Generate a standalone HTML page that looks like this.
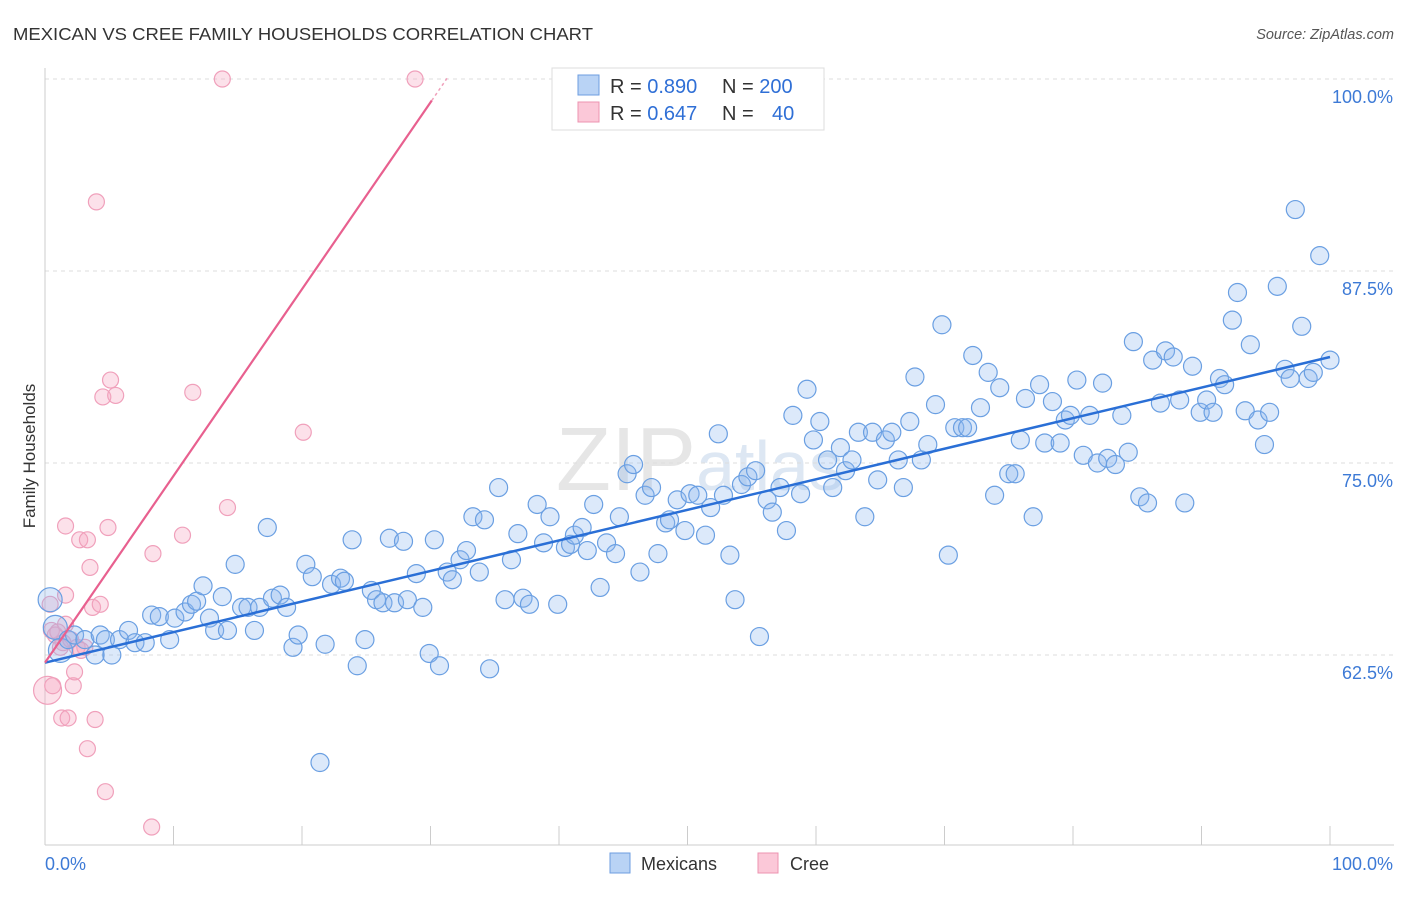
<!DOCTYPE html>
<html><head><meta charset="utf-8">
<style>
body{margin:0;background:#fff;font-family:"Liberation Sans",sans-serif;}
svg text{font-family:"Liberation Sans",sans-serif;}
</style></head>
<body>
<svg id="chart" width="1406" height="892" xmlns="http://www.w3.org/2000/svg">
<text x="13" y="40" font-size="17.5" fill="#333" textLength="580" lengthAdjust="spacingAndGlyphs">MEXICAN VS CREE FAMILY HOUSEHOLDS CORRELATION CHART</text>
<text x="1394" y="39" font-size="14.5" fill="#555" text-anchor="end" font-style="italic">Source: ZipAtlas.com</text>
<text x="700" y="490" font-size="90" fill="#e6e6e6" text-anchor="middle" font-family="Liberation Serif">ZIP<tspan font-size="70" fill="#dde7f3" font-family="Liberation Sans">atlas</tspan></text>
<g id="grid"></g>
<g id="axes"></g>
<g id="cree"></g>
<g id="mex"></g>
<g id="lines"></g>
<text x="35" y="456" font-size="17" fill="#333" text-anchor="middle" transform="rotate(-90 35 456)">Family Households</text>
<g>
<rect x="552" y="68" width="272" height="62" fill="#fff" stroke="#ddd"/>
<rect x="578" y="75" width="21" height="20" fill="#b9d3f5" stroke="#6d9ee0"/>
<rect x="578" y="102" width="21" height="20" fill="#fbc8d8" stroke="#ec93b0"/>
<text x="610" y="93" font-size="20" fill="#333">R = <tspan fill="#2f6fd6">0.890</tspan><tspan x="722">N = </tspan><tspan fill="#2f6fd6">200</tspan></text>
<text x="610" y="120" font-size="20" fill="#333">R = <tspan fill="#2f6fd6">0.647</tspan><tspan x="722">N = </tspan><tspan x="772" fill="#2f6fd6">40</tspan></text>
</g>
<g>
<rect x="610" y="853" width="20" height="20" fill="#b9d3f5" stroke="#6d9ee0"/>
<text x="641" y="870" font-size="18" fill="#333">Mexicans</text>
<rect x="758" y="853" width="20" height="20" fill="#fbc8d8" stroke="#ec93b0"/>
<text x="790" y="870" font-size="18" fill="#333">Cree</text>
</g>
</svg>
<script>
const yTicks=[100,87.5,75,62.5];
const yTickLabels=["100.0%","87.5%","75.0%","62.5%"];
const xEndLabels=["0.0%","100.0%"];
const mexX=[0.4,0.8,1.2,1.8,2.3,3.1,3.9,4.3,4.7,5.2,5.8,6.5,7.0,7.8,8.3,8.9,9.7,10.1,10.9,11.4,11.8,12.3,12.8,13.2,13.8,14.2,14.8,15.3,15.8,16.3,16.7,17.3,17.7,18.3,18.8,19.3,19.7,20.3,20.8,21.4,21.8,22.3,23.0,23.3,23.9,24.3,24.9,25.4,25.8,26.3,26.8,27.2,27.9,28.2,28.9,29.4,29.9,30.3,30.7,31.3,31.7,32.3,32.8,33.3,33.8,34.2,34.6,35.3,35.8,36.3,36.8,37.2,37.7,38.3,38.8,39.3,39.9,40.5,40.9,41.2,41.8,42.2,42.7,43.2,43.7,44.4,44.7,45.3,45.8,46.3,46.7,47.2,47.7,48.3,48.6,49.2,49.8,50.2,50.8,51.4,51.8,52.4,52.8,53.3,53.7,54.2,54.7,55.3,55.6,56.2,56.6,57.2,57.7,58.2,58.8,59.3,59.8,60.3,60.9,61.3,61.9,62.3,62.8,63.3,63.8,64.4,64.8,65.4,65.9,66.4,66.8,67.3,67.7,68.2,68.7,69.3,69.8,70.3,70.8,71.4,71.8,72.2,72.8,73.4,73.9,74.3,75.0,75.5,75.9,76.3,76.9,77.4,77.8,78.4,79.0,79.4,79.8,80.3,80.8,81.3,81.9,82.3,82.7,83.3,83.8,84.3,84.7,85.2,85.8,86.2,86.8,87.2,87.8,88.3,88.7,89.3,89.9,90.4,90.9,91.4,91.8,92.4,92.8,93.4,93.8,94.4,94.9,95.3,95.9,96.5,96.9,97.3,97.8,98.3,98.7,99.2,100];
const mexY=[66.1,64.3,62.8,63.5,63.8,63.5,62.5,63.8,63.5,62.5,63.5,64.1,63.3,63.3,65.1,65.0,63.5,64.9,65.3,65.8,66.0,67.0,64.9,64.1,66.3,64.1,68.4,65.6,65.6,64.1,65.6,70.8,66.2,66.4,65.6,63.0,63.8,68.4,67.6,55.5,63.2,67.1,67.5,67.3,70.0,61.8,63.5,66.7,66.1,65.9,70.1,65.9,69.9,66.1,67.8,65.6,62.6,70.0,61.8,67.9,67.4,68.7,69.3,71.5,67.9,71.3,61.6,73.4,66.1,68.7,70.4,66.2,65.8,72.3,69.8,71.5,65.8,69.5,69.7,70.3,70.8,69.3,72.3,66.9,69.8,69.1,71.5,74.3,74.9,67.9,72.9,73.4,69.1,71.1,71.3,72.6,70.6,73.0,72.9,70.3,72.1,76.9,72.9,69.0,66.1,73.6,74.1,74.5,63.7,72.6,71.8,73.4,70.6,78.1,73.0,79.8,76.5,77.7,75.2,73.4,76.0,74.5,75.2,77.0,71.5,77.0,73.9,76.5,77.0,75.2,73.4,77.7,80.6,75.2,76.2,78.8,84.0,69.0,77.3,77.3,77.3,82.0,78.6,80.9,72.9,79.9,74.3,74.3,76.5,79.2,71.5,80.1,76.3,79.0,76.3,77.8,78.1,80.4,75.5,78.1,75.0,80.2,75.3,74.9,78.1,75.7,82.9,72.8,72.4,81.7,78.9,82.3,81.9,79.1,72.4,81.3,78.3,79.1,78.3,80.5,80.1,84.3,86.1,78.4,82.7,77.8,76.2,78.3,86.5,81.1,80.5,91.5,83.9,80.5,80.9,88.5,81.7];
const creeX=[0.2,0.4,0.5,0.8,1.2,1.3,1.6,1.8,1.6,2.0,2.2,2.3,2.5,2.7,3.1,3.3,3.5,3.7,3.9,4.0,4.3,4.5,4.7,4.9,5.1,5.5,8.3,8.4,10.7,11.5,13.8,14.2,20.1,28.8,1.6,3.3,1.0,2.8,0.6,1.4];
const creeY=[60.2,65.8,64.1,63.8,63.0,58.4,64.5,58.4,66.4,63.5,60.5,61.4,63.0,70.0,63.0,56.4,68.2,65.6,58.3,92.0,65.8,79.3,53.6,70.8,80.4,79.4,51.3,69.1,70.3,79.6,100,72.1,77.0,100,70.9,70.0,64.0,62.8,60.5,63.3];
const mexTrend=[62.0,81.9];
const creeTrend=[62.0,98.6];
const creeTrendEndX=30.1;

const X0=45,X1=1330,Y100=79,PXPER=15.36;
const sx=v=>X0+(X1-X0)*v/100;
const sy=v=>Y100+(100-v)*PXPER;
const NS="http://www.w3.org/2000/svg";
function mk(tag,attrs,parent){const e=document.createElementNS(NS,tag);for(const k in attrs)e.setAttribute(k,attrs[k]);parent.appendChild(e);return e;}
const grid=document.getElementById('grid'),axes=document.getElementById('axes');
yTicks.forEach((t,i)=>{
 const l=mk('line',{x1:X0,x2:1394,y1:sy(t),y2:sy(t),stroke:'#ddd','stroke-dasharray':'4,4'},grid);
 
 
 const tx=mk('text',{x:1393,y:sy(t)+24,'font-size':18,fill:'#3d7ad6','text-anchor':'end'},axes);
 tx.textContent=yTickLabels[i];
 
 
});
const ax=mk('line',{x1:X0,x2:1394,y1:845,y2:845,stroke:'#ccc'},axes);


const ay=mk('line',{x1:X0,x2:X0,y1:68,y2:845,stroke:'#ccc'},axes);


for(let i=0;i<=10;i++){
 const t=mk('line',{x1:sx(i*10),x2:sx(i*10),y1:826,y2:845,stroke:'#ccc'},axes);
 
 
}
const xl0=mk('text',{x:45,y:870,'font-size':18,fill:'#3d7ad6'},axes);xl0.textContent=xEndLabels[0];


const xl1=mk('text',{x:1393,y:870,'font-size':18,fill:'#3d7ad6','text-anchor':'end'},axes);xl1.textContent=xEndLabels[1];



const cg=document.getElementById('cree');
creeX.forEach((x,i)=>{
 const c=mk('circle',{cx:sx(x),cy:sy(creeY[i]),r:i===0?14:8,fill:'rgba(246,170,196,0.35)',stroke:'#f0a0bb','stroke-width':1.2},cg);
 
 
});
const mg=document.getElementById('mex');
mexX.forEach((x,i)=>{
 const c=mk('circle',{cx:sx(x),cy:sy(mexY[i]),r:i<3?12:9,fill:'rgba(140,182,238,0.3)',stroke:'#6a9fe2','stroke-width':1.2},mg);
 
 
});
const lg=document.getElementById('lines');
const bl=mk('line',{x1:sx(0),y1:sy(mexTrend[0]),x2:sx(100),y2:sy(mexTrend[1]),stroke:'#2a6fd6','stroke-width':2.5},lg);


const slope=(creeTrend[1]-creeTrend[0])/creeTrendEndX;
const pl=mk('line',{x1:sx(0),y1:sy(creeTrend[0]),x2:sx(creeTrendEndX),y2:sy(creeTrend[1]),stroke:'#e8608f','stroke-width':2.2},lg);


const pd=mk('line',{x1:sx(creeTrendEndX),y1:sy(creeTrend[1]),x2:sx(creeTrendEndX+1.2),y2:sy(creeTrend[1]+slope*1.2),stroke:'#f0a0bb','stroke-width':1.5,'stroke-dasharray':'3,3'},lg);


</script>
</body></html>
